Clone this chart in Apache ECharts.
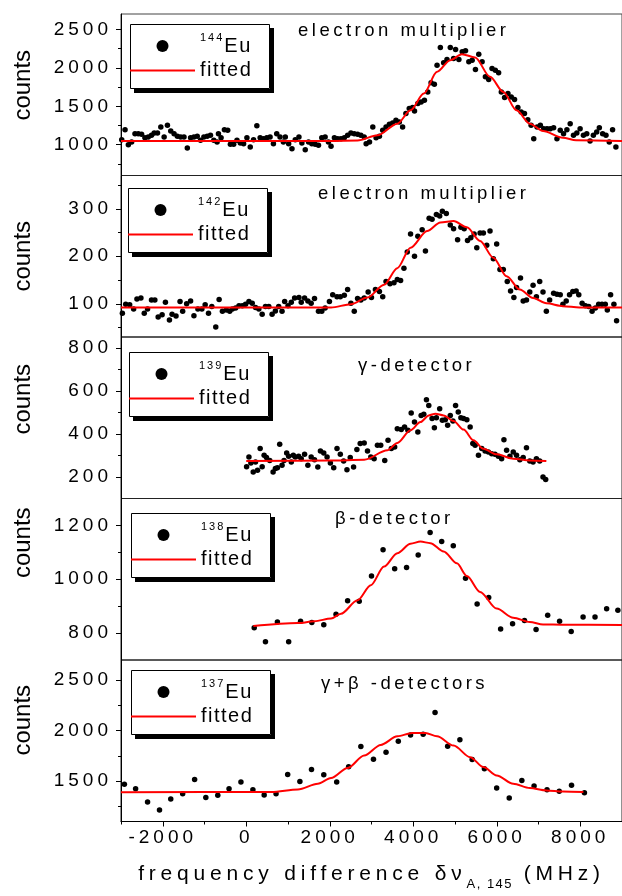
<!DOCTYPE html>
<html><head><meta charset="utf-8">
<script src="https://cdn.jsdelivr.net/npm/echarts@6/dist/echarts.min.js"></script>
<style>html,body{margin:0;padding:0;background:#fff}#chart{width:622px;height:896px}</style>
</head><body><div id="chart"></div>
<script>
// ---------------- data (MHz, counts) ----------------
const xMajor = [-2000, 0, 2000, 4000, 6000, 8000];
const xMinor = [-3000, -1000, 1000, 3000, 5000, 7000, 9000];

const eu144 = [[-2983,1065],[-2903,1196],[-2824,1000],[-2745,1035],[-2665,1144],[-2586,1144],[-2507,1135],[-2427,1092],[-2348,1100],[-2269,1122],[-2205,1152],[-2126,1152],[-2046,1231],[-1967,1100],[-1888,1252],[-1808,1179],[-1729,1144],[-1650,1109],[-1571,1100],[-1491,1100],[-1412,957],[-1333,1092],[-1253,1100],[-1174,1109],[-1095,1057],[-1015,1100],[-936,1109],[-857,1122],[-777,1057],[-698,1035],[-666,1144],[-603,1092],[-523,1196],[-444,1187],[-380,1005],[-301,1005],[-222,1057],[-142,1022],[-63,1013],[16,1092],[96,970],[175,1066],[254,1248],[333,1092],[413,1079],[492,1092],[571,1100],[651,1013],[730,1144],[809,1100],[889,1035],[936,1100],[1016,1013],[1095,948],[1174,1066],
[1262,1100],[1333,1022],[1413,935],[1492,1035],[1571,1013],[1651,1005],[1730,992],[1809,1092],[1889,1100],[1968,1035],[2031,979],[2111,1092],[2190,1079],[2269,1079],[2349,1092],[2428,1122],[2507,1152],[2587,1144],[2666,1135],[2745,1122],[2825,1100],[2872,1013],[2952,1035],[3031,1231],[3110,1092],[3190,1109],[3269,1187],[3348,1231],[3428,1265],[3507,1283],[3586,1318],[3666,1296],[3745,1231],[3824,1405],[3904,1470],[3983,1483],[4030,1439],[4110,1535],[4189,1557],[4268,1578],[4348,1687],[4427,1805],[4506,1787],[4570,2035],[4649,2265],[4728,2065],[4808,2109],[4887,2265],[4966,2122],[5014,2239],[5093,2109],[5173,2209],[5252,2222],[5331,2078],[5411,2100],[5490,1978],[5569,2178],[5649,2078],[5728,1883],[5807,1848],[5887,1991],[5966,1970],[6045,1935],[6109,1687],[6188,1613],[6268,1665],[6347,1622],[6426,1587],[6506,1483],[6585,1426],[6664,1405],[6744,1326],[6823,1252],[6886,1079],[6966,1231],[7045,1252],[7124,1209],[7204,1209],[7283,1209],[7362,1222],[7442,1079],[7521,1187],[7600,1144],[7680,1196],[7759,1274],[7838,1122],[7918,1152],[7997,1209],[8076,1122],[8156,1144],[8235,1048],[8314,1122],[8394,1165],[8457,1222],[8536,1144],[8616,1122],[8695,1035],[8774,1196],[8854,970]];
const fit144 = [[-3000,1048],[2000,1050],[2666,1055],[3142,1122],[3618,1274],[3935,1448],[4253,1665],[4570,1948],[4887,2100],[5165,2178],[5482,2135],[5839,1883],[6157,1687],[6474,1448],[6791,1274],[7108,1179],[7584,1092],[7902,1057],[9000,1048]];

const eu142 = [[-2967,80],[-2887,99],[-2792,98],[-2697,89],[-2618,110],[-2523,112],[-2443,80],[-2364,89],[-2269,108],[-2189,108],[-2110,72],[-2015,77],[-1936,103],[-1840,66],[-1777,78],[-1682,74],[-1586,105],[-1523,84],[-1428,100],[-1333,106],[-1253,75],[-1158,89],[-1063,89],[-984,98],[-904,80],[-825,94],[-730,51],[-650,109],[-571,84],[-476,87],[-396,84],[-333,89],[-254,91],[-174,96],[-95,96],[-16,99],[64,105],[143,101],[222,92],[302,89],[381,78],[460,94],[540,94],[619,78],[698,85],[777,94],[857,84],[920,105],[1000,96],[1079,103],[1158,112],
[1262,113],[1317,103],[1397,112],[1476,106],[1555,101],[1635,111],[1730,84],[1809,84],[1889,91],[1992,105],[2071,119],[2174,115],[2253,115],[2349,118],[2428,130],[2507,101],[2587,84],[2666,111],[2745,108],[2825,112],[2920,125],[2999,113],[3094,130],[3190,126],[3269,115],[3348,147],[3443,142],[3539,144],[3618,151],[3697,149],[3777,175],[3856,209],[3935,247],[4030,200],[4110,242],[4213,256],[4292,211],[4380,280],[4451,278],[4554,288],[4633,285],[4697,295],[4792,290],[4887,266],[4966,258],[5062,235],[5141,261],[5220,258],[5300,233],[5379,239],[5458,247],[5522,218],[5601,249],[5680,249],[5760,223],[5839,253],[5918,195],[5998,226],[6077,172],[6157,172],[6252,147],[6331,127],[6410,113],[6474,134],[6569,154],[6633,106],[6712,108],[6791,125],[6870,139],[6950,115],[7029,147],[7108,125],[7188,84],[7267,108],[7362,122],[7442,120],[7521,119],[7584,99],[7664,106],[7743,119],[7822,126],[7902,127],[7965,119],[8045,101],[8124,96],[8203,94],[8283,84],[8362,91],[8441,99],[8521,99],[8600,99],[8648,87],[8727,119],[8806,99],[8870,64]];
const fit142 = [[-3000,92],[2031,92],[2507,99],[2904,113],[3301,140],[3618,175],[3935,218],[4332,253],[4649,271],[4966,274],[5284,261],[5601,232],[5918,197],[6236,158],[6553,130],[6870,112],[7188,101],[7584,95],[7981,92],[9000,92]];

const eu139 = [[8,247],[64,293],[111,265],[167,223],[222,270],[270,231],[333,332],[381,247],[428,301],[484,290],[563,277],[643,223],[698,239],[746,243],[801,352],[857,254],[905,277],[968,311],[1016,296],[1079,270],[1127,301],[1174,293],
[1254,296],[1317,285],[1397,305],[1476,254],[1555,293],[1635,280],[1714,246],[1777,321],[1857,311],[1936,293],[2015,265],[2095,243],[2174,332],[2253,305],[2333,274],[2412,234],[2491,290],[2571,246],[2650,327],[2729,355],[2825,358],[2904,321],[2983,293],[3063,285],[3142,347],[3221,347],[3317,277],[3396,370],[3475,332],[3555,339],[3618,424],[3713,420],[3792,432],[3872,417],[3951,497],[4030,455],[4110,409],[4189,486],[4253,491],[4316,559],[4372,532],[4451,471],[4506,429],[4554,475],[4633,517],[4697,463],[4768,466],[4824,440],[4887,486],[4951,460],[5014,532],[5078,502],[5141,475],[5205,471],[5284,466],[5363,432],[5427,355],[5482,347],[5562,301],[5641,332],[5720,321],[5799,316],[5879,308],[5958,305],[6038,296],[6117,285],[6172,373],[6236,324],[6315,296],[6395,316],[6474,301],[6553,280],[6633,290],[6712,336],[6791,274],[6870,270],[6950,285],[7029,274],[7108,200],[7172,188]];
const fit139 = [[0,274],[2000,276],[2825,280],[3380,324],[3618,358],[3935,417],[4173,455],[4372,486],[4530,494],[4728,486],[4966,460],[5205,420],[5443,370],[5680,331],[5998,305],[6395,285],[6791,277],[7188,274]];

const eu138 = [[191,820],[460,768],[746,841],[1016,768],[1301,844],[1571,839],[1857,831],[2150,870],[2428,920],[2706,918],[3000,1012],[3277,1110],[3555,1039],[3840,1044],[4118,1090],[4404,1174],[4681,1140],[4959,1124],[5252,1004],[5530,908],[5807,932],[6093,815],[6379,835],[6664,847],[6942,813],[7220,866],[7505,844],[7783,806],[8068,860],[8354,860],[8632,890],[8901,885]];
const fit138 = [[170,826],[1238,837],[1635,844],[2031,854],[2269,872],[2666,922],[2983,978],[3301,1047],[3618,1097],[3935,1132],[4173,1140],[4411,1134],[4728,1103],[5046,1059],[5284,1012],[5601,953],[5998,891],[6395,857],[6791,841],[7108,832],[7584,831],[9000,830]];

const eu137 = [[-2919,1468],[-2650,1425],[-2364,1293],[-2078,1215],[-1808,1323],[-1523,1376],[-1237,1517],[-968,1339],[-682,1359],[-412,1425],[-127,1491],[159,1415],[429,1362],[714,1376],[992,1566],[1285,1497],[1563,1616],[1857,1563],[2166,1491],[2452,1642],[2745,1842],[3047,1717],[3348,1786],[3642,1895],[3935,1957],[4237,1964],[4522,2181],[4824,1846],[5117,1911],[5411,1714],[5704,1622],[5998,1432],[6299,1333],[6601,1507],[6894,1451],[7204,1415],[7497,1399],[7791,1458],[8100,1385]];
const fit137 = [[-3000,1389],[603,1392],[1238,1418],[1714,1474],[2031,1530],[2428,1629],[2825,1754],[3221,1859],[3618,1944],[3975,1977],[4292,1977],[4570,1944],[4966,1852],[5363,1737],[5680,1639],[5998,1556],[6395,1474],[6791,1431],[7188,1408],[7584,1398],[8076,1392]];

const seriesNames = ['144Eu', '142Eu', '139Eu', '138Eu', '137Eu'];
const panelTitles = ['electron multiplier', 'electron multiplier', 'γ-detector', 'β-detector', 'γ+β -detectors'];
const yRanges = [[600, 2700], [30, 370], [100, 850], [700, 1300], [1100, 2700]];
const yMajor = [[1000, 1500, 2000, 2500], [100, 200, 300], [200, 400, 600, 800], [800, 1000, 1200], [1500, 2000, 2500]];
const yMinor = [[750, 1250, 1750, 2250], [50, 150, 250, 350], [300, 500, 700], [900, 1100], [1250, 1750, 2250]];
const points = [eu144, eu142, eu139, eu138, eu137];
const fits = [fit144, fit142, fit139, fit138, fit137];

// ---------------- layout (px) ----------------
const layout = {
  titleLeft: [298, 318, 358, 335, 321],
  titleTop: [20, 183, 354.5, 508, 672.5],
  legendLeft: [130, 128, 129, 131, 131],
  legendTop: [24, 188, 352, 513, 670],
  legendW: 139, legendH: 64, shadow: 4,
  countsShift: [9.5, 0, 18.5, 36.5, 20.5]
};

// ---------------- letter spacing (per font size) ----------------
const SPACING = {19: 4, 18.5: 3.5, 20: 1.5, 21: 4.8, 11: 2, 13: 1.5};
function spacingFor(font) {
  const m = /(\d+(?:\.\d+)?)px/.exec(font || '');
  if (!m) return 0;
  return SPACING[parseFloat(m[1])] || 0;
}
(function () {
  const P = CanvasRenderingContext2D.prototype;
  const om = P.measureText, of = P.fillText;
  P.measureText = function (t) {
    const m = om.call(this, t);
    const sp = spacingFor(this.font);
    if (!sp) return m;
    const n = Array.from(String(t)).length;
    return {
      width: m.width + sp * n,
      actualBoundingBoxAscent: m.actualBoundingBoxAscent,
      actualBoundingBoxDescent: m.actualBoundingBoxDescent,
      actualBoundingBoxLeft: m.actualBoundingBoxLeft,
      actualBoundingBoxRight: m.actualBoundingBoxRight + sp * n,
      fontBoundingBoxAscent: m.fontBoundingBoxAscent,
      fontBoundingBoxDescent: m.fontBoundingBoxDescent
    };
  };
  P.fillText = function (t, x, y, mw) {
    const sp = spacingFor(this.font);
    if (!sp) { return mw === undefined ? of.call(this, t, x, y) : of.call(this, t, x, y, mw); }
    const prev = this.letterSpacing;
    this.letterSpacing = sp + 'px';
    if (mw === undefined) of.call(this, t, x, y); else of.call(this, t, x, y, mw);
    this.letterSpacing = prev;
  };
})();

// ---------------- chart ----------------
const FONT = '"Liberation Sans", Arial, Helvetica, sans-serif';
const chart = echarts.init(document.getElementById('chart'), null, {renderer: 'canvas', width: 622, height: 896});
const plain = v => String(v);

const PANEL_TOP = 14, PANEL_H = 161.5;
const grid = [], xAxis = [], yAxis = [], series = [], legend = [], title = [], elements = [];
for (let i = 0; i < 5; i++) {
  const last = i === 4;
  grid.push({left: 121, right: -4, top: PANEL_TOP + PANEL_H * i, height: PANEL_H,
    show: true, borderColor: i === 0 ? '#444' : '#222', borderWidth: 1, backgroundColor: 'transparent'});
  xAxis.push({
    gridIndex: i, type: 'value', min: -3000, max: 9000, position: 'bottom',
    axisLine: {show: last, onZero: false, lineStyle: {color: '#000', width: 1}},
    axisTick: {show: last, customValues: xMajor, length: 5, lineStyle: {color: '#000'}},
    axisLabel: {show: last, customValues: xMajor, formatter: plain, margin: 5, fontSize: 19, color: '#000', fontFamily: FONT},
    splitLine: {show: false},
    name: last ? 'frequency difference δν{sub|A, 145} (MHz)' : '',
    nameLocation: 'middle', nameGap: 36,
    nameTextStyle: {fontSize: 21, lineHeight: 34, color: '#000', fontFamily: FONT,
      rich: {sub: {fontSize: 13, lineHeight: 13, verticalAlign: 'bottom', color: '#000', fontFamily: FONT}}}
  });
  xAxis.push({
    gridIndex: i, type: 'value', min: -3000, max: 9000, position: 'bottom',
    axisLine: {show: false, onZero: false},
    axisTick: {show: last, customValues: xMinor, length: 3, lineStyle: {color: '#000'}},
    axisLabel: {show: false}, splitLine: {show: false}
  });
  yAxis.push({
    gridIndex: i, type: 'value', min: yRanges[i][0], max: yRanges[i][1], position: 'left',
    axisLine: {show: true, onZero: false, lineStyle: {color: '#000', width: 1}},
    axisTick: {show: true, customValues: yMajor[i], length: 5, lineStyle: {color: '#000'}},
    axisLabel: {customValues: yMajor[i], formatter: plain, margin: 9, fontSize: 19, color: '#000', fontFamily: FONT},
    splitLine: {show: false},
    name: 'counts', nameLocation: 'middle', nameGap: 86,
    nameTextStyle: {fontSize: 24, color: '#000', fontFamily: FONT, padding: [0, 0, 0, layout.countsShift[i] * 2]}
  });
  yAxis.push({
    gridIndex: i, type: 'value', min: yRanges[i][0], max: yRanges[i][1], position: 'left',
    axisLine: {show: false, onZero: false},
    axisTick: {show: true, customValues: yMinor[i], length: 3, lineStyle: {color: '#000'}},
    axisLabel: {show: false}, splitLine: {show: false}
  });
  series.push({
    type: 'scatter', name: seriesNames[i], xAxisIndex: 2 * i, yAxisIndex: 2 * i,
    data: points[i], symbol: 'circle', symbolSize: 5.5, itemStyle: {color: '#000', opacity: 1}, z: 2
  });
  series.push({
    type: 'line', name: 'fitted', xAxisIndex: 2 * i, yAxisIndex: 2 * i,
    data: fits[i], symbol: 'none', showSymbol: false, smooth: 0.3, smoothMonotone: 'x',
    lineStyle: {color: '#ff0000', width: 2}, itemStyle: {color: '#ff0000'}, z: 3
  });
  const L = layout.legendLeft[i], T = layout.legendTop[i], W = layout.legendW, H = layout.legendH, S = layout.shadow;
  // legend frame: white fill casting a hard black drop shadow, then a thin outline
  elements.push({type: 'rect', id: 'fill' + i, z: 20, silent: true,
    shape: {x: L, y: T, width: W + 1, height: H + 1},
    style: {fill: '#fff', shadowColor: '#000', shadowOffsetX: S, shadowOffsetY: S, shadowBlur: 0.01}});
  elements.push({type: 'polygon', id: 'shadow' + i, z: 22, silent: true,
    shape: {points: [[L + W + 1, T + S], [L + W + 1 + S, T + S], [L + W + 1 + S, T + H + 1 + S], [L + S, T + H + 1 + S], [L + S, T + H + 1], [L + W + 1, T + H + 1]]},
    style: {fill: '#000', stroke: null}});
  elements.push({type: 'rect', id: 'box' + i, z: 23, silent: true,
    shape: {x: L + 0.5, y: T + 0.5, width: W, height: H},
    style: {fill: null, stroke: '#000', lineWidth: 1}});
  legend.push({
    data: [{name: seriesNames[i], icon: 'circle'}, {name: 'fitted', icon: 'path://M0,0H65V2H0Z'}],
    orient: 'vertical', left: L, top: T, z: 30,
    itemWidth: 65, itemHeight: 12, itemGap: 3,
    padding: [7, 16, 8, 0],
    selectedMode: false,
    formatter: function (name) {
      if (name === 'fitted') return '{fit|fitted}';
      const m = /^(\d+)(.*)$/.exec(name);
      return '{sup|' + m[1] + '}{eu|' + m[2] + '}';
    },
    textStyle: {color: '#000', fontFamily: FONT, fontSize: 20,
      rich: {
        sup: {fontSize: 11, lineHeight: 11, verticalAlign: 'top', color: '#000', fontFamily: FONT},
        eu: {fontSize: 20, lineHeight: 30, color: '#000', fontFamily: FONT},
        fit: {fontSize: 20, lineHeight: 20, color: '#000', fontFamily: FONT}
      }}
  });
  title.push({
    text: panelTitles[i], left: layout.titleLeft[i], top: layout.titleTop[i], padding: 0,
    textStyle: {fontSize: 18.5, fontWeight: 'normal', color: '#000', fontFamily: FONT}
  });
}

chart.setOption({
  animation: false,
  backgroundColor: '#fff',
  title, grid, xAxis, yAxis, legend, series,
  graphic: {elements: elements}
});
</script>
</body></html>
